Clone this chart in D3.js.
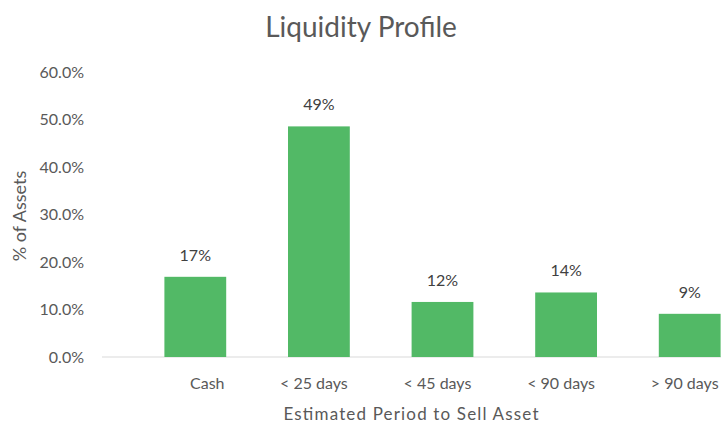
<!DOCTYPE html>
<html><head><meta charset="utf-8">
<script src="https://cdn.jsdelivr.net/npm/d3@7"></script>
<style>body{margin:0;background:#fff}svg{display:block;font-family:Lato,"Open Sans",sans-serif}</style>
</head><body><svg id="c" width="721" height="423"></svg>
<script>
const categories = ["Cash", "< 25 days", "< 45 days", "< 90 days", "> 90 days"];
const values = [0.169, 0.486, 0.116, 0.136, 0.091];
const yTicks = [0, 0.1, 0.2, 0.3, 0.4, 0.5, 0.6];
const title = "Liquidity Profile";
const xTitle = "Estimated Period to Sell Asset";
const yTitle = "% of Assets";

const svg = d3.select("#c");
const textColor = "#595959";
const x = d3.scaleBand().domain(categories).range([133.5, 751.5]).paddingInner(0.5).paddingOuter(0.25);
const y = d3.scaleLinear().domain([0, 0.6]).range([357, 72.3]);

svg.append("text").attr("x", 361).attr("y", 37).attr("text-anchor", "middle")
  .attr("font-size", 28).attr("fill", textColor).text(title);

const yAxis = d3.axisLeft(y).tickValues(yTicks).tickFormat(d3.format(".1%")).tickSize(0).tickPadding(0);
const gy = svg.append("g").attr("transform", "translate(84,0)").call(yAxis);
gy.select(".domain").remove();
gy.selectAll("text").attr("font-size", 16).attr("fill", textColor).attr("font-family", "Lato,'Open Sans',sans-serif");

svg.append("line").attr("x1", 102).attr("x2", 721).attr("y1", y(0)).attr("y2", y(0))
  .attr("stroke", "#d9d9d9").attr("stroke-width", 1);

svg.selectAll("rect.bar").data(values).join("rect").attr("class", "bar")
  .attr("x", (d, i) => x(categories[i])).attr("width", x.bandwidth())
  .attr("y", d => y(d)).attr("height", d => y(0) - y(d)).attr("fill", "#52b966");

svg.selectAll("text.val").data(values).join("text").attr("class", "val")
  .attr("x", (d, i) => x(categories[i]) + x.bandwidth() / 2).attr("y", d => y(d) - 16)
  .attr("text-anchor", "middle").attr("font-size", 16).attr("fill", "#404040")
  .text(d => d3.format(".0%")(d));

const xAxis = d3.axisBottom(x).tickSize(0).tickPadding(0);
const gx = svg.append("g").attr("transform", "translate(0,377.5)").call(xAxis);
gx.select(".domain").remove();
gx.selectAll("text").attr("font-size", 16).attr("fill", textColor).attr("font-family", "Lato,'Open Sans',sans-serif")
  .attr("dx", (d, i) => i === 0 ? 12 : -5);

svg.append("text").attr("x", 411).attr("y", 420).attr("text-anchor", "middle")
  .attr("font-size", 17).attr("fill", textColor)
  .attr("textLength", 255).attr("lengthAdjust", "spacing").text(xTitle);

svg.append("text").attr("transform", "translate(26,216) rotate(-90)").attr("text-anchor", "middle")
  .attr("font-size", 18).attr("fill", textColor).text(yTitle);
</script></body></html>
